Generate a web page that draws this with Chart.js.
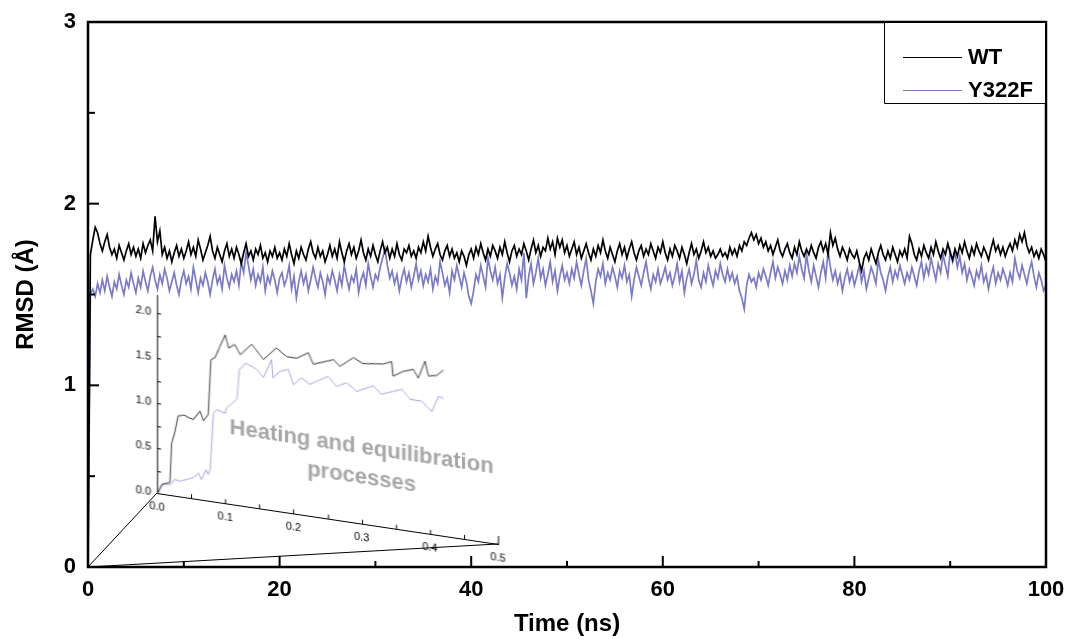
<!DOCTYPE html>
<html>
<head>
<meta charset="utf-8">
<title>RMSD WT / Y322F</title>
<script src="https://cdn.jsdelivr.net/npm/chart.js@4.4.1/dist/chart.umd.min.js"></script>
<style>
    html, body { margin: 0; padding: 0; background: #fff; }
    #wrap { position: relative; width: 1067px; height: 639px; }
    #main { position: absolute; left: 0; top: 0; }
    #inset { position: absolute; left: 100px; top: 280px; }
</style>
</head>
<body>
<div id="wrap">
    <canvas id="main" width="1067" height="639"></canvas>
    <canvas id="inset" width="420" height="260"></canvas>
</div>
<script>
// sampling interval of the main trajectories (ns)
const TIME_STEP_NS = 0.25;

const seriesLabels = ['WT', 'Y322F'];

// RMSD (Å), 0 -> 100 ns
const rmsdWT = [
    0.00,
    1.72,1.80,1.87,1.84,1.78,1.74,1.79,1.83,1.76,1.72,1.75,1.70,1.77,1.73,1.69,1.74,1.78,1.72,1.76,1.71,
    1.75,1.70,1.78,1.73,1.77,1.80,1.74,1.93,1.79,1.85,1.72,1.76,1.70,1.74,1.68,1.73,1.77,1.71,1.75,1.70,
    1.74,1.79,1.72,1.76,1.71,1.80,1.75,1.69,1.73,1.77,1.82,1.74,1.70,1.76,1.72,1.68,1.74,1.78,1.71,1.75,
    1.70,1.76,1.72,1.67,1.73,1.78,1.71,1.74,1.69,1.75,1.72,1.77,1.70,1.73,1.68,1.74,1.71,1.76,1.70,1.73,
    1.69,1.75,1.71,1.78,1.72,1.67,1.74,1.70,1.76,1.72,1.69,1.75,1.79,1.73,1.70,1.76,1.71,1.74,1.68,1.72,
    1.77,1.71,1.75,1.70,1.79,1.73,1.68,1.74,1.78,1.72,1.76,1.70,1.74,1.80,1.73,1.69,1.75,1.71,1.77,1.72,
    1.68,1.74,1.79,1.73,1.76,1.70,1.75,1.71,1.78,1.72,1.69,1.75,1.73,1.77,1.71,1.74,1.70,1.76,1.73,1.79,
    1.74,1.82,1.76,1.71,1.75,1.78,1.72,1.69,1.74,1.77,1.71,1.75,1.70,1.73,1.68,1.74,1.71,1.66,1.72,1.75,
    1.70,1.76,1.72,1.78,1.73,1.69,1.75,1.71,1.77,1.74,1.70,1.76,1.72,1.79,1.73,1.68,1.74,1.77,1.71,1.75,
    1.72,1.78,1.74,1.69,1.75,1.80,1.73,1.77,1.71,1.76,1.74,1.81,1.75,1.79,1.72,1.81,1.76,1.80,1.73,1.77,
    1.71,1.75,1.79,1.72,1.76,1.70,1.74,1.78,1.73,1.69,1.75,1.71,1.77,1.73,1.80,1.74,1.70,1.76,1.72,1.68,
    1.74,1.78,1.72,1.76,1.70,1.75,1.79,1.73,1.69,1.74,1.77,1.71,1.75,1.72,1.78,1.74,1.70,1.76,1.73,1.79,
    1.73,1.69,1.75,1.71,1.77,1.74,1.70,1.76,1.72,1.67,1.73,1.78,1.72,1.75,1.70,1.74,1.79,1.73,1.76,1.71,
    1.74,1.70,1.72,1.75,1.71,1.73,1.70,1.76,1.72,1.75,1.71,1.77,1.74,1.79,1.77,1.81,1.84,1.80,1.83,1.78,
    1.81,1.76,1.79,1.74,1.77,1.72,1.76,1.80,1.74,1.71,1.75,1.78,1.73,1.70,1.76,1.72,1.79,1.74,1.71,1.75,
    1.72,1.77,1.73,1.70,1.76,1.79,1.74,1.78,1.72,1.84,1.77,1.81,1.75,1.71,1.76,1.73,1.69,1.75,1.72,1.70,
    1.74,1.68,1.63,1.70,1.73,1.69,1.75,1.71,1.67,1.73,1.77,1.72,1.69,1.74,1.70,1.76,1.72,1.68,1.74,1.71,
    1.75,1.70,1.82,1.78,1.72,1.69,1.75,1.71,1.77,1.73,1.70,1.76,1.72,1.79,1.74,1.70,1.75,1.72,1.78,1.73,
    1.69,1.75,1.71,1.77,1.73,1.79,1.74,1.70,1.76,1.72,1.78,1.74,1.71,1.76,1.73,1.69,1.75,1.80,1.74,1.77,
    1.72,1.76,1.71,1.75,1.78,1.74,1.80,1.76,1.83,1.79,1.84,1.77,1.73,1.76,1.71,1.74,1.70,1.75,1.72,1.68
];

const rmsdY322F = [
    0.00,
    1.50,1.53,1.49,1.56,1.51,1.58,1.52,1.60,1.54,1.49,1.57,1.53,1.61,1.55,1.50,1.58,1.54,1.62,1.56,1.51,
    1.59,1.54,1.63,1.57,1.52,1.60,1.65,1.58,1.53,1.61,1.56,1.64,1.59,1.52,1.57,1.62,1.55,1.50,1.58,1.63,
    1.56,1.60,1.53,1.65,1.58,1.51,1.59,1.55,1.62,1.57,1.50,1.58,1.64,1.56,1.60,1.53,1.66,1.59,1.54,1.61,
    1.57,1.63,1.55,1.68,1.62,1.73,1.66,1.58,1.64,1.55,1.61,1.57,1.65,1.52,1.60,1.56,1.63,1.58,1.51,1.59,
    1.62,1.55,1.59,1.66,1.53,1.60,1.48,1.57,1.63,1.56,1.61,1.52,1.58,1.65,1.59,1.54,1.62,1.57,1.50,1.60,
    1.56,1.63,1.58,1.52,1.61,1.55,1.66,1.59,1.53,1.60,1.57,1.64,1.51,1.58,1.62,1.55,1.67,1.60,1.54,1.61,
    1.58,1.65,1.70,1.75,1.66,1.59,1.63,1.56,1.61,1.52,1.59,1.64,1.57,1.62,1.54,1.60,1.67,1.58,1.63,1.55,
    1.61,1.57,1.64,1.53,1.60,1.56,1.68,1.62,1.55,1.59,1.51,1.63,1.58,1.66,1.60,1.54,1.62,1.57,1.49,1.45,
    1.52,1.61,1.57,1.66,1.60,1.54,1.70,1.63,1.58,1.65,1.56,1.61,1.48,1.59,1.67,1.62,1.55,1.60,1.53,1.64,
    1.58,1.73,1.48,1.60,1.67,1.56,1.62,1.70,1.59,1.64,1.55,1.61,1.68,1.57,1.63,1.52,1.60,1.66,1.58,1.62,
    1.56,1.64,1.59,1.68,1.61,1.55,1.63,1.70,1.58,1.52,1.45,1.57,1.64,1.60,1.67,1.56,1.62,1.58,1.65,1.60,
    1.54,1.63,1.59,1.66,1.57,1.61,1.49,1.58,1.65,1.60,1.55,1.62,1.68,1.59,1.53,1.61,1.57,1.64,1.56,1.60,
    1.65,1.58,1.62,1.55,1.60,1.67,1.57,1.63,1.51,1.59,1.64,1.56,1.61,1.69,1.58,1.54,1.62,1.57,1.66,1.60,
    1.55,1.63,1.59,1.67,1.61,1.57,1.64,1.58,1.62,1.56,1.60,1.52,1.48,1.42,1.55,1.61,1.57,1.59,1.54,1.62,
    1.58,1.64,1.60,1.55,1.62,1.68,1.59,1.65,1.61,1.56,1.63,1.58,1.66,1.60,1.67,1.62,1.71,1.64,1.59,1.72,
    1.63,1.57,1.66,1.60,1.54,1.62,1.68,1.59,1.74,1.65,1.58,1.63,1.56,1.61,1.52,1.59,1.64,1.57,1.62,1.55,
    1.60,1.66,1.57,1.63,1.53,1.59,1.65,1.61,1.56,1.69,1.62,1.58,1.52,1.60,1.65,1.57,1.63,1.59,1.66,1.61,
    1.56,1.62,1.58,1.65,1.60,1.55,1.63,1.68,1.59,1.66,1.61,1.70,1.64,1.58,1.67,1.62,1.72,1.66,1.60,1.74,
    1.68,1.73,1.65,1.71,1.62,1.67,1.58,1.64,1.60,1.55,1.63,1.59,1.66,1.57,1.61,1.53,1.60,1.65,1.56,1.62,
    1.58,1.64,1.60,1.55,1.62,1.57,1.70,1.63,1.59,1.66,1.61,1.56,1.63,1.68,1.60,1.54,1.62,1.58,1.52,1.55
];

// inset: heating + equilibration, first 0.42 ns
const insetTimeWT = [
    0, 0.002, 0.007, 0.019, 0.0215, 0.026, 0.031, 0.039, 0.053, 0.063,
    0.068, 0.075, 0.079, 0.085, 0.092, 0.100, 0.105, 0.114, 0.122, 0.139,
    0.156, 0.175, 0.190, 0.205, 0.222, 0.229, 0.259, 0.268, 0.288, 0.302,
    0.332, 0.344, 0.346, 0.361, 0.376, 0.383, 0.393, 0.398, 0.410, 0.420
];
const insetRmsdWT = [
    0, 0.01, 0.10, 0.14, 0.58, 0.70, 0.89, 0.91, 0.875, 0.98,
    0.88, 0.955, 1.57, 1.60, 1.73, 1.87, 1.73, 1.78, 1.675, 1.81,
    1.66, 1.81, 1.73, 1.73, 1.81, 1.69, 1.775, 1.71, 1.83, 1.78,
    1.81, 1.85, 1.69, 1.76, 1.80, 1.71, 1.91, 1.75, 1.77, 1.84
];
const insetTimeY322F = [
    0, 0.0044, 0.009, 0.019, 0.026, 0.034, 0.0435, 0.053, 0.061, 0.065,
    0.072, 0.075, 0.078, 0.0826, 0.0875, 0.100, 0.102, 0.114, 0.117, 0.121,
    0.130, 0.146, 0.156, 0.168, 0.170, 0.180, 0.1925, 0.200, 0.212, 0.224,
    0.239, 0.251, 0.263, 0.278, 0.293, 0.317, 0.329, 0.346, 0.359, 0.371,
    0.388, 0.403, 0.4125, 0.420
];
const insetRmsdY322F = [
    0, 0.06, 0.12, 0.11, 0.18, 0.17, 0.20, 0.23, 0.29, 0.22,
    0.34, 0.29, 0.35, 0.98, 1.025, 1.00, 1.06, 1.15, 1.17, 1.51,
    1.59, 1.54, 1.46, 1.67, 1.47, 1.556, 1.59, 1.43, 1.52, 1.46,
    1.53, 1.58, 1.48, 1.54, 1.46, 1.55, 1.47, 1.52, 1.56, 1.46,
    1.46, 1.36, 1.54, 1.53
];

const FONT = '"Liberation Sans", Arial, sans-serif';
const COLOR_WT = '#000000';
const COLOR_Y322F = 'rgb(122, 122, 200)';
const INSET_SKEW_DEG = 8.5;

const toPoints = (xs, ys) => ys.map((y, i) => ({ x: xs[i], y: y }));
const toTimeSeries = (ys) => ys.map((y, i) => ({ x: i * TIME_STEP_NS, y: y }));

// keep the plot area where layout.padding puts it (no label overhang)
const noOverhangX = (s) => { s.paddingLeft = 0; s.paddingRight = 0; };
const noOverhangY = (s) => { s.paddingTop = 0; s.paddingBottom = 0; };


// ---------- inset ----------
const insetDecor = {
    id: 'insetDecor',
    afterDraw: (chart) => {
        const { ctx, chartArea, scales: { x, y } } = chart;
        ctx.save();
        ctx.strokeStyle = '#000';
        ctx.lineWidth = 1;
        // inward ticks on the y axis
        for (let v = 0; v <= 2.0001; v += 0.25) {
            const py = Math.round(y.getPixelForValue(v)) + 0.5;
            ctx.beginPath();
            ctx.moveTo(chartArea.left, py);
            ctx.lineTo(chartArea.left + 4, py);
            ctx.stroke();
        }
        // ticks on the x axis, pointing up
        for (let k = 0; k <= 10; k++) {
            const px = Math.round(x.getPixelForValue(k * 0.05)) + 0.5;
            const len = k === 10 ? 8 : 4;
            ctx.beginPath();
            ctx.moveTo(px, chartArea.bottom);
            ctx.lineTo(px, chartArea.bottom - len);
            ctx.stroke();
        }
        ctx.fillStyle = '#a6a6a6';
        ctx.font = `bold 22px ${FONT}`;
        ctx.textAlign = 'center';
        ctx.textBaseline = 'alphabetic';
        ctx.fillText('Heating and equilibration', x.getPixelForValue(0.3), y.getPixelForValue(0.78));
        ctx.fillText('processes', x.getPixelForValue(0.3), y.getPixelForValue(0.44));
        ctx.restore();
    }
};

const insetCanvas = document.getElementById('inset');
const insetChart = new Chart(insetCanvas, {
    type: 'line',
    data: {
        datasets: [{
            label: seriesLabels[0],
            data: toPoints(insetTimeWT, insetRmsdWT),
            borderColor: '#333333',
            borderWidth: 1
        }, {
            label: seriesLabels[1],
            data: toPoints(insetTimeY322F, insetRmsdY322F),
            borderColor: '#a3a3e4',
            borderWidth: 1
        }]
    },
    options: {
        responsive: false,
        animation: false,
        devicePixelRatio: 1,
        layout: { padding: { top: 15, right: 22, left: 0, bottom: 0 } },
        elements: { point: { radius: 0 }, line: { tension: 0 } },
        plugins: { legend: { display: false }, tooltip: { enabled: false } },
        scales: {
            x: {
                type: 'linear',
                min: 0,
                max: 0.5,
                afterFit: (s) => { s.height = 47; noOverhangX(s); },
                grid: { display: false, drawTicks: false },
                border: { display: true, color: '#000', width: 1 },
                ticks: {
                    stepSize: 0.1,
                    padding: 7,
                    maxRotation: 0,
                    autoSkip: false,
                    color: '#000',
                    font: { family: FONT, size: 11 },
                    callback: (v) => v.toFixed(1)
                }
            },
            y: {
                min: 0,
                max: 2.2,
                afterFit: (s) => { s.width = 57; noOverhangY(s); },
                afterBuildTicks: (s) => { s.ticks = s.ticks.filter(t => t.value <= 2.0001); },
                grid: { display: false, drawTicks: false },
                border: { display: true, color: '#000', width: 1 },
                ticks: {
                    stepSize: 0.5,
                    padding: 6,
                    color: '#000',
                    font: { family: FONT, size: 11 },
                    callback: (v) => v.toFixed(1)
                }
            }
        }
    },
    plugins: [insetDecor]
});

const insetArea = insetChart.chartArea;
insetCanvas.style.transformOrigin = `${insetArea.left}px ${insetArea.bottom}px`;
insetCanvas.style.transform = `skewY(${INSET_SKEW_DEG}deg)`;


// ---------- main chart ----------
const mainDecor = {
    id: 'mainDecor',
    afterDraw: (chart) => {
        const { ctx, chartArea, scales: { x, y } } = chart;
        const { left, right, top, bottom } = chartArea;
        ctx.save();

        // frame
        ctx.strokeStyle = '#000';
        ctx.lineWidth = 2.5;
        ctx.strokeRect(left, top, right - left, bottom - top);

        // inward ticks
        ctx.lineWidth = 2;
        y.ticks.forEach((t) => {
            const py = y.getPixelForValue(t.value);
            const len = Number.isInteger(t.value) ? 11 : 7;
            ctx.beginPath();
            ctx.moveTo(left, py);
            ctx.lineTo(left + len, py);
            ctx.stroke();
        });
        x.ticks.forEach((t) => {
            const px = x.getPixelForValue(t.value);
            const len = t.value % 20 === 0 ? 11 : 6;
            ctx.beginPath();
            ctx.moveTo(px, bottom);
            ctx.lineTo(px, bottom - len);
            ctx.stroke();
        });

        // legend box in the top right corner
        const boxLeft = right - 162;
        const boxBottom = top + 81;
        ctx.fillStyle = '#fff';
        ctx.fillRect(boxLeft, top + 1, right - boxLeft - 1, boxBottom - top - 1);
        ctx.lineWidth = 1;
        ctx.strokeStyle = '#000';
        ctx.beginPath();
        ctx.moveTo(boxLeft + 0.5, top);
        ctx.lineTo(boxLeft + 0.5, boxBottom + 0.5);
        ctx.lineTo(right, boxBottom + 0.5);
        ctx.stroke();
        ctx.font = `bold 22px ${FONT}`;
        ctx.textAlign = 'left';
        ctx.textBaseline = 'middle';
        chart.data.datasets.forEach((ds, i) => {
            const ly = top + 35 + i * 33;
            ctx.strokeStyle = ds.borderColor;
            ctx.beginPath();
            ctx.moveTo(boxLeft + 19, ly + 0.5);
            ctx.lineTo(boxLeft + 78, ly + 0.5);
            ctx.stroke();
            ctx.fillStyle = '#000';
            ctx.fillText(ds.label, boxLeft + 84, ly + 1);
        });

        // lines joining the origin to the inset's axes
        const ox = x.getPixelForValue(0);
        const oy = y.getPixelForValue(0);
        const ix = insetCanvas.offsetLeft + insetArea.left;
        const iy = insetCanvas.offsetTop + insetArea.bottom;
        const ex = insetCanvas.offsetLeft + insetArea.right;
        const ey = iy + (insetArea.right - insetArea.left) * Math.tan(INSET_SKEW_DEG * Math.PI / 180);
        ctx.strokeStyle = '#000';
        ctx.lineWidth = 1;
        ctx.beginPath();
        ctx.moveTo(ox, oy);
        ctx.lineTo(ix, iy);
        ctx.moveTo(ox, oy);
        ctx.lineTo(ex, ey);
        ctx.stroke();

        ctx.restore();
    }
};

new Chart(document.getElementById('main'), {
    type: 'line',
    data: {
        datasets: [{
            label: seriesLabels[0],
            data: toTimeSeries(rmsdWT),
            borderColor: COLOR_WT,
            borderWidth: 1.7
        }, {
            label: seriesLabels[1],
            data: toTimeSeries(rmsdY322F),
            borderColor: COLOR_Y322F,
            borderWidth: 1.7
        }]
    },
    options: {
        responsive: false,
        animation: false,
        devicePixelRatio: 1,
        layout: { padding: { top: 22, right: 21, left: 0, bottom: 0 } },
        elements: { point: { radius: 0 }, line: { tension: 0 } },
        plugins: { legend: { display: false }, tooltip: { enabled: false } },
        scales: {
            x: {
                type: 'linear',
                min: 0,
                max: 100,
                afterFit: (s) => { s.height = 72; noOverhangX(s); },
                grid: { display: false, drawTicks: false },
                border: { display: false },
                ticks: {
                    stepSize: 10,
                    padding: 10,
                    maxRotation: 0,
                    autoSkip: false,
                    color: '#000',
                    font: { family: FONT, size: 22, weight: 'bold' },
                    callback: (v) => (v % 20 === 0 ? v : '')
                },
                title: {
                    display: true,
                    text: 'Time (ns)',
                    color: '#000',
                    font: { family: FONT, size: 24, weight: 'bold' },
                    padding: { top: 0, bottom: 0 }
                }
            },
            y: {
                min: 0,
                max: 3,
                afterFit: (s) => { s.width = 88; noOverhangY(s); },
                grid: { display: false, drawTicks: false },
                border: { display: false },
                ticks: {
                    stepSize: 0.5,
                    padding: 12,
                    color: '#000',
                    font: { family: FONT, size: 22, weight: 'bold' },
                    callback: (v) => (Number.isInteger(v) ? v : '')
                },
                title: {
                    display: true,
                    text: 'RMSD (Å)',
                    color: '#000',
                    font: { family: FONT, size: 24, weight: 'bold' },
                    padding: { top: 12, bottom: 0 }
                }
            }
        }
    },
    plugins: [mainDecor]
});
</script>
</body>
</html>
